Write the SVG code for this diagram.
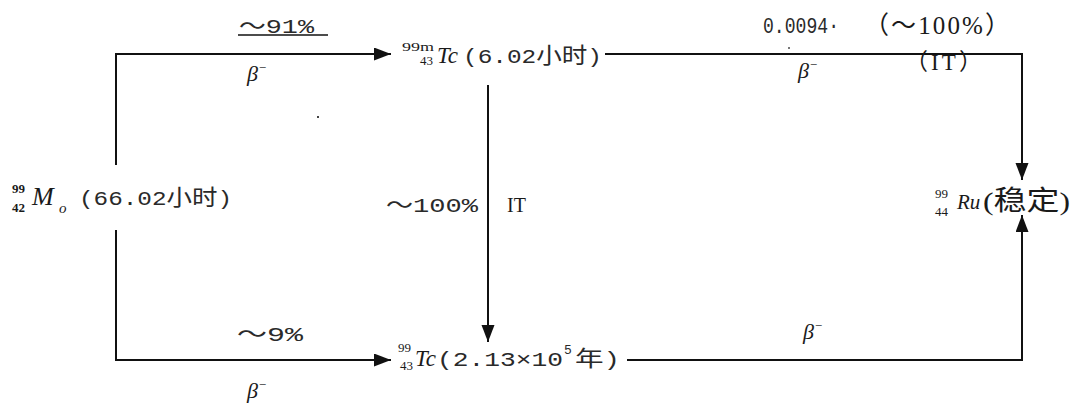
<svg xmlns="http://www.w3.org/2000/svg" width="1071" height="406" viewBox="0 0 1071 406">
<style>
.ln{stroke:#111;stroke-width:2;fill:none}
.t{font-family:"Liberation Serif",serif;fill:#1a1a1a}
.m{font-family:"Liberation Mono",monospace;fill:#2a2a2a}
.cjk{font-family:"Noto Sans CJK SC",sans-serif}
.it{font-style:italic}
.sm{font-size:13px}
</style>
<defs>
<marker id="ah" markerUnits="userSpaceOnUse" markerWidth="18" markerHeight="14" refX="17" refY="6.5" orient="auto">
<path d="M0,0 L17,6.5 L0,13 z" fill="#111"/>
</marker>
</defs>
<rect width="1071" height="406" fill="#fff"/>
<g id="connectors">
<polyline class="ln" points="116,165 116,54 391,54" marker-end="url(#ah)"/>
<polyline class="ln" points="116,230 116,360 391,360" marker-end="url(#ah)"/>
<line class="ln" x1="488" y1="85" x2="488" y2="342" marker-end="url(#ah)"/>
<polyline class="ln" points="605,54 1022,54 1022,180" marker-end="url(#ah)"/>
<polyline class="ln" points="627,360 1022,360 1022,215" marker-end="url(#ah)"/>
<line x1="238" y1="35" x2="328" y2="35" stroke="#111" stroke-width="1.5"/>
<text class="m" x="239" y="33" font-size="21" textLength="75" lengthAdjust="spacingAndGlyphs"><tspan class="cjk">～</tspan>91%</text>
<text class="t it" x="247" y="81" font-size="22">β<tspan font-size="13" dy="-9">−</tspan></text>
<text class="m" x="237" y="341" font-size="21" textLength="66" lengthAdjust="spacingAndGlyphs"><tspan class="cjk">～</tspan>9%</text>
<text class="t it" x="247" y="398" font-size="22">β<tspan font-size="13" dy="-9">−</tspan></text>
<text class="m" x="386" y="212" font-size="21" textLength="92" lengthAdjust="spacingAndGlyphs"><tspan class="cjk">～</tspan>100%</text>
<text class="t" x="507" y="212" font-size="20">IT</text>
<text class="m" x="763" y="33" font-size="22" textLength="76" lengthAdjust="spacingAndGlyphs" fill="#444">0.0094·</text>
<text class="t" x="864" y="34" font-size="25" textLength="146" lengthAdjust="spacing"><tspan class="cjk">（～</tspan>100%<tspan class="cjk">）</tspan></text>
<text class="t" x="905" y="70" font-size="23" textLength="77" lengthAdjust="spacing"><tspan class="cjk">（</tspan>IT<tspan class="cjk">）</tspan></text>
<text class="t it" x="798" y="78" font-size="22">β<tspan font-size="13" dy="-9">−</tspan></text>
<text class="t it" x="803" y="339" font-size="22">β<tspan font-size="13" dy="-9">−</tspan></text>
<rect x="317" y="116" width="2" height="2" fill="#444"/>
<rect x="788" y="47" width="2" height="2" fill="#777"/>
</g>
<g id="node-mo99">
<text class="t sm" x="12" y="193" font-weight="bold">99</text>
<text class="t sm" x="12" y="212" font-weight="bold">42</text>
<text class="t it" x="32" y="205" font-size="26">M</text>
<text class="t it" x="59" y="213" font-size="15">o</text>
<text class="m" x="79" y="205" font-size="21" textLength="153" lengthAdjust="spacingAndGlyphs">(66.02<tspan class="cjk" font-size="22">小时</tspan>)</text>
</g>
<g id="node-tc99m">
<text class="t sm" x="402" y="51" textLength="32" lengthAdjust="spacingAndGlyphs">99m</text>
<text class="t sm" x="420" y="65">43</text>
<text class="t it" x="437" y="63" font-size="23">Tc</text>
<text class="m" x="463" y="63" font-size="21" textLength="139" lengthAdjust="spacingAndGlyphs">(6.02<tspan class="cjk" font-size="22">小时</tspan>)</text>
</g>
<g id="node-tc99">
<text class="t sm" x="398" y="352">99</text>
<text class="t sm" x="400" y="370">43</text>
<text class="t it" x="415" y="366" font-size="23">Tc</text>
<text class="m" x="437" y="366" font-size="21" textLength="126" lengthAdjust="spacingAndGlyphs">(2.13×10</text>
<text class="m" x="564" y="354" font-size="13">5</text>
<text class="m" x="575" y="366" font-size="21" textLength="45" lengthAdjust="spacingAndGlyphs"><tspan class="cjk" font-size="22">年</tspan>)</text>
</g>
<g id="node-ru99">
<text class="t sm" x="935" y="198">99</text>
<text class="t sm" x="935" y="216">44</text>
<text class="t it" x="957" y="209" font-size="21">Ru</text>
<text class="t" x="983" y="210" font-size="26" textLength="87" lengthAdjust="spacingAndGlyphs">(<tspan class="cjk" font-size="27">稳定</tspan>)</text>
</g>
</svg>
